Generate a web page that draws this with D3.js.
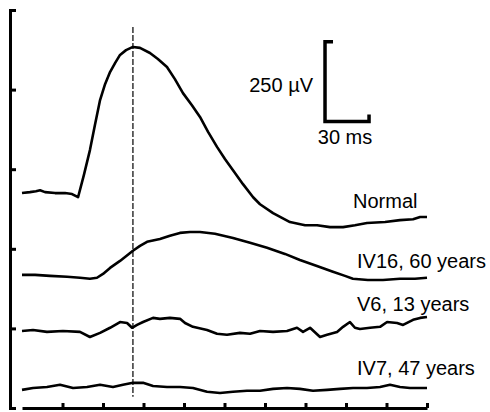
<!DOCTYPE html>
<html>
<head>
<meta charset="utf-8">
<script src="https://cdn.jsdelivr.net/npm/d3@7"></script>
<style>
  body { margin: 0; background: #fff; }
  svg text { font-family: "Liberation Sans", Arial, sans-serif; font-size: 20px; fill: #000; }
</style>
</head>
<body>
<div id="chart"></div>
<script>
// time in ms, amplitude in µV (relative to each trace's own baseline)
const normalT = [0, 5.4, 9.5, 12.3, 15.7, 22.5, 29.3, 34.1, 38.2, 42.2, 46.3, 49.7, 53.2, 56.6, 60.0, 63.4, 66.8, 70.9, 75.6, 80.4, 87.2, 92.6, 98.8, 104.2, 109.7, 115.8, 121.3, 126.8, 132.9, 138.3, 143.8, 150.6, 157.5, 162.2, 171.1, 182.6, 192.9, 201.1, 209.9, 218.8, 226.9, 235.1, 247.4, 257.6, 266.5, 271.3, 276];
const normalV = [0, 3, 6, 9, 3, 0, 0, -3, -13, 57, 135, 214, 292, 342, 380, 408, 434, 449, 459, 456, 440, 421, 396, 358, 314, 276, 239, 192, 145, 107, 72, 28, -13, -35, -63, -91, -101, -101, -107, -107, -101, -94, -91, -85, -82, -75, -75];

const iv16T = [0, 8.9, 19.1, 30.7, 39.5, 46.3, 51.1, 55.2, 60.0, 66.8, 75.6, 80.4, 85.2, 94.0, 100.8, 107.6, 114.5, 121.3, 131.5, 143.8, 155.4, 167.0, 179.2, 189.4, 201.0, 211.9, 220.1, 225.5, 235.7, 246.0, 257.6, 267.8, 276];
const iv16V = [3, 3, 0, -3, -6, -9, -6, 6, 25, 47, 79, 94, 107, 116, 126, 135, 138, 138, 132, 119, 104, 88, 69, 50, 31, 13, 0, -9, -13, -13, -9, -9, -6];

const v6T = [0, 7.5, 17.0, 27.9, 39.5, 46.3, 53.2, 60.0, 66.8, 71.6, 75.0, 78.4, 82.5, 89.3, 94.0, 100.8, 107.7, 111.1, 116.5, 126.1, 132.9, 139.7, 148.5, 155.4, 162.2, 171.1, 180.6, 187.4, 191.5, 196.3, 203.1, 207.9, 214.7, 218.8, 223.5, 226.9, 230.3, 237.2, 244.0, 248.8, 255.6, 259.7, 266.5, 271.3, 276];
const v6V = [3, 6, 0, 3, 0, -16, -3, 13, 31, 28, 13, 22, 31, 44, 41, 44, 41, 28, 16, 6, -6, -9, -3, -6, 3, 0, 3, 13, 0, 13, -16, -9, 0, 16, 31, 13, 9, 13, 16, 31, 28, 22, 38, 44, 47];

const iv7T = [0, 7.5, 17.0, 25.9, 34.8, 44.3, 53.2, 62.0, 68.8, 75.6, 82.5, 89.3, 98.8, 107.7, 116.5, 126.1, 134.9, 143.8, 153.3, 162.2, 171.1, 180.6, 189.4, 198.3, 207.9, 216.7, 225.6, 235.1, 244.0, 250.8, 257.6, 264.4, 271.3, 276];
const iv7V = [-3, 3, 6, 13, 3, 6, 13, 6, 13, 19, 19, 9, 6, 6, 3, -9, -13, -9, -6, -6, 0, 3, 0, -6, -3, 0, 3, 3, 6, 13, 6, 3, 3, 3];

// vertical offset of each trace on the display (µV)
const traceNames = ["Normal", "IV16, 60 years", "V6, 13 years", "IV7, 47 years"];
const traceOffsets = [675, 415, 239, 60];

const yTicks = [0, 250, 500, 750, 1000, 1250];
const xTicks = [27.6, 55.2, 82.8, 110.4, 138, 165.6, 193.2, 220.8, 248.4, 276];
const markerTime = 75.6;          // dashed line at the normal peak
const barTime = 30, barVolt = 250;  // calibration bar

const traces = [
  {t: normalT, v: normalV},
  {t: iv16T, v: iv16V},
  {t: v6T, v: v6V},
  {t: iv7T, v: iv7V}
];

// label placement (pixels)
const labelPos = [[353, 208], [357, 268], [357, 311], [357, 375]];

const width = 490, height = 412;

const svg = d3.select("#chart")
  .append("svg")
  .attr("width", width)
  .attr("height", height);

const x = d3.scaleLinear().domain([0, 276]).range([22, 427]);
const y = d3.scaleLinear().domain([0, 1250]).range([408, 10]);

// left axis (ticks pointing right)
const yAxis = svg.append("g")
  .attr("transform", "translate(10,0)")
  .call(d3.axisRight(y).tickValues(yTicks).tickSize(6).tickFormat(""));
yAxis.selectAll("path, line").attr("stroke", "#000").attr("stroke-width", 3);

// bottom axis (ticks pointing up)
const xAxis = svg.append("g")
  .attr("transform", `translate(0,${y(0)})`)
  .call(d3.axisTop(x).tickValues(xTicks).tickSizeInner(5).tickSizeOuter(0).tickFormat(""));
xAxis.selectAll("path, line").attr("stroke", "#000").attr("stroke-width", 3);

// dashed marker
svg.append("line")
  .attr("x1", x(markerTime)).attr("x2", x(markerTime))
  .attr("y1", y(1197)).attr("y2", y(35))
  .attr("stroke", "#000")
  .attr("stroke-width", 1.2)
  .attr("stroke-dasharray", "6,2");

// traces
const line = d3.line()
  .x(d => x(d[0]))
  .y(d => y(d[1]));

traces.forEach((tr, i) => {
  const pts = tr.t.map((t, j) => [t, tr.v[j] + traceOffsets[i]]);
  svg.append("path")
    .datum(pts)
    .attr("fill", "none")
    .attr("stroke", "#000")
    .attr("stroke-width", 2.6)
    .attr("stroke-linejoin", "round")
    .attr("d", line);

  svg.append("text")
    .attr("x", labelPos[i][0])
    .attr("y", labelPos[i][1])
    .text(traceNames[i]);
});

// calibration bar
const bx0 = x(206.5), bx1 = x(206.5 + barTime);
const by0 = y(900), by1 = y(900 + barVolt);
svg.append("path")
  .attr("d", `M${bx0 + 8},${by1}H${bx0}V${by0}H${bx1}V${by0 - 7}`)
  .attr("fill", "none")
  .attr("stroke", "#000")
  .attr("stroke-width", 3.5);

svg.append("text")
  .attr("x", 313).attr("y", 92)
  .attr("text-anchor", "end")
  .text("250 µV");

svg.append("text")
  .attr("x", 345).attr("y", 144)
  .attr("text-anchor", "middle")
  .text("30 ms");
</script>
</body>
</html>
